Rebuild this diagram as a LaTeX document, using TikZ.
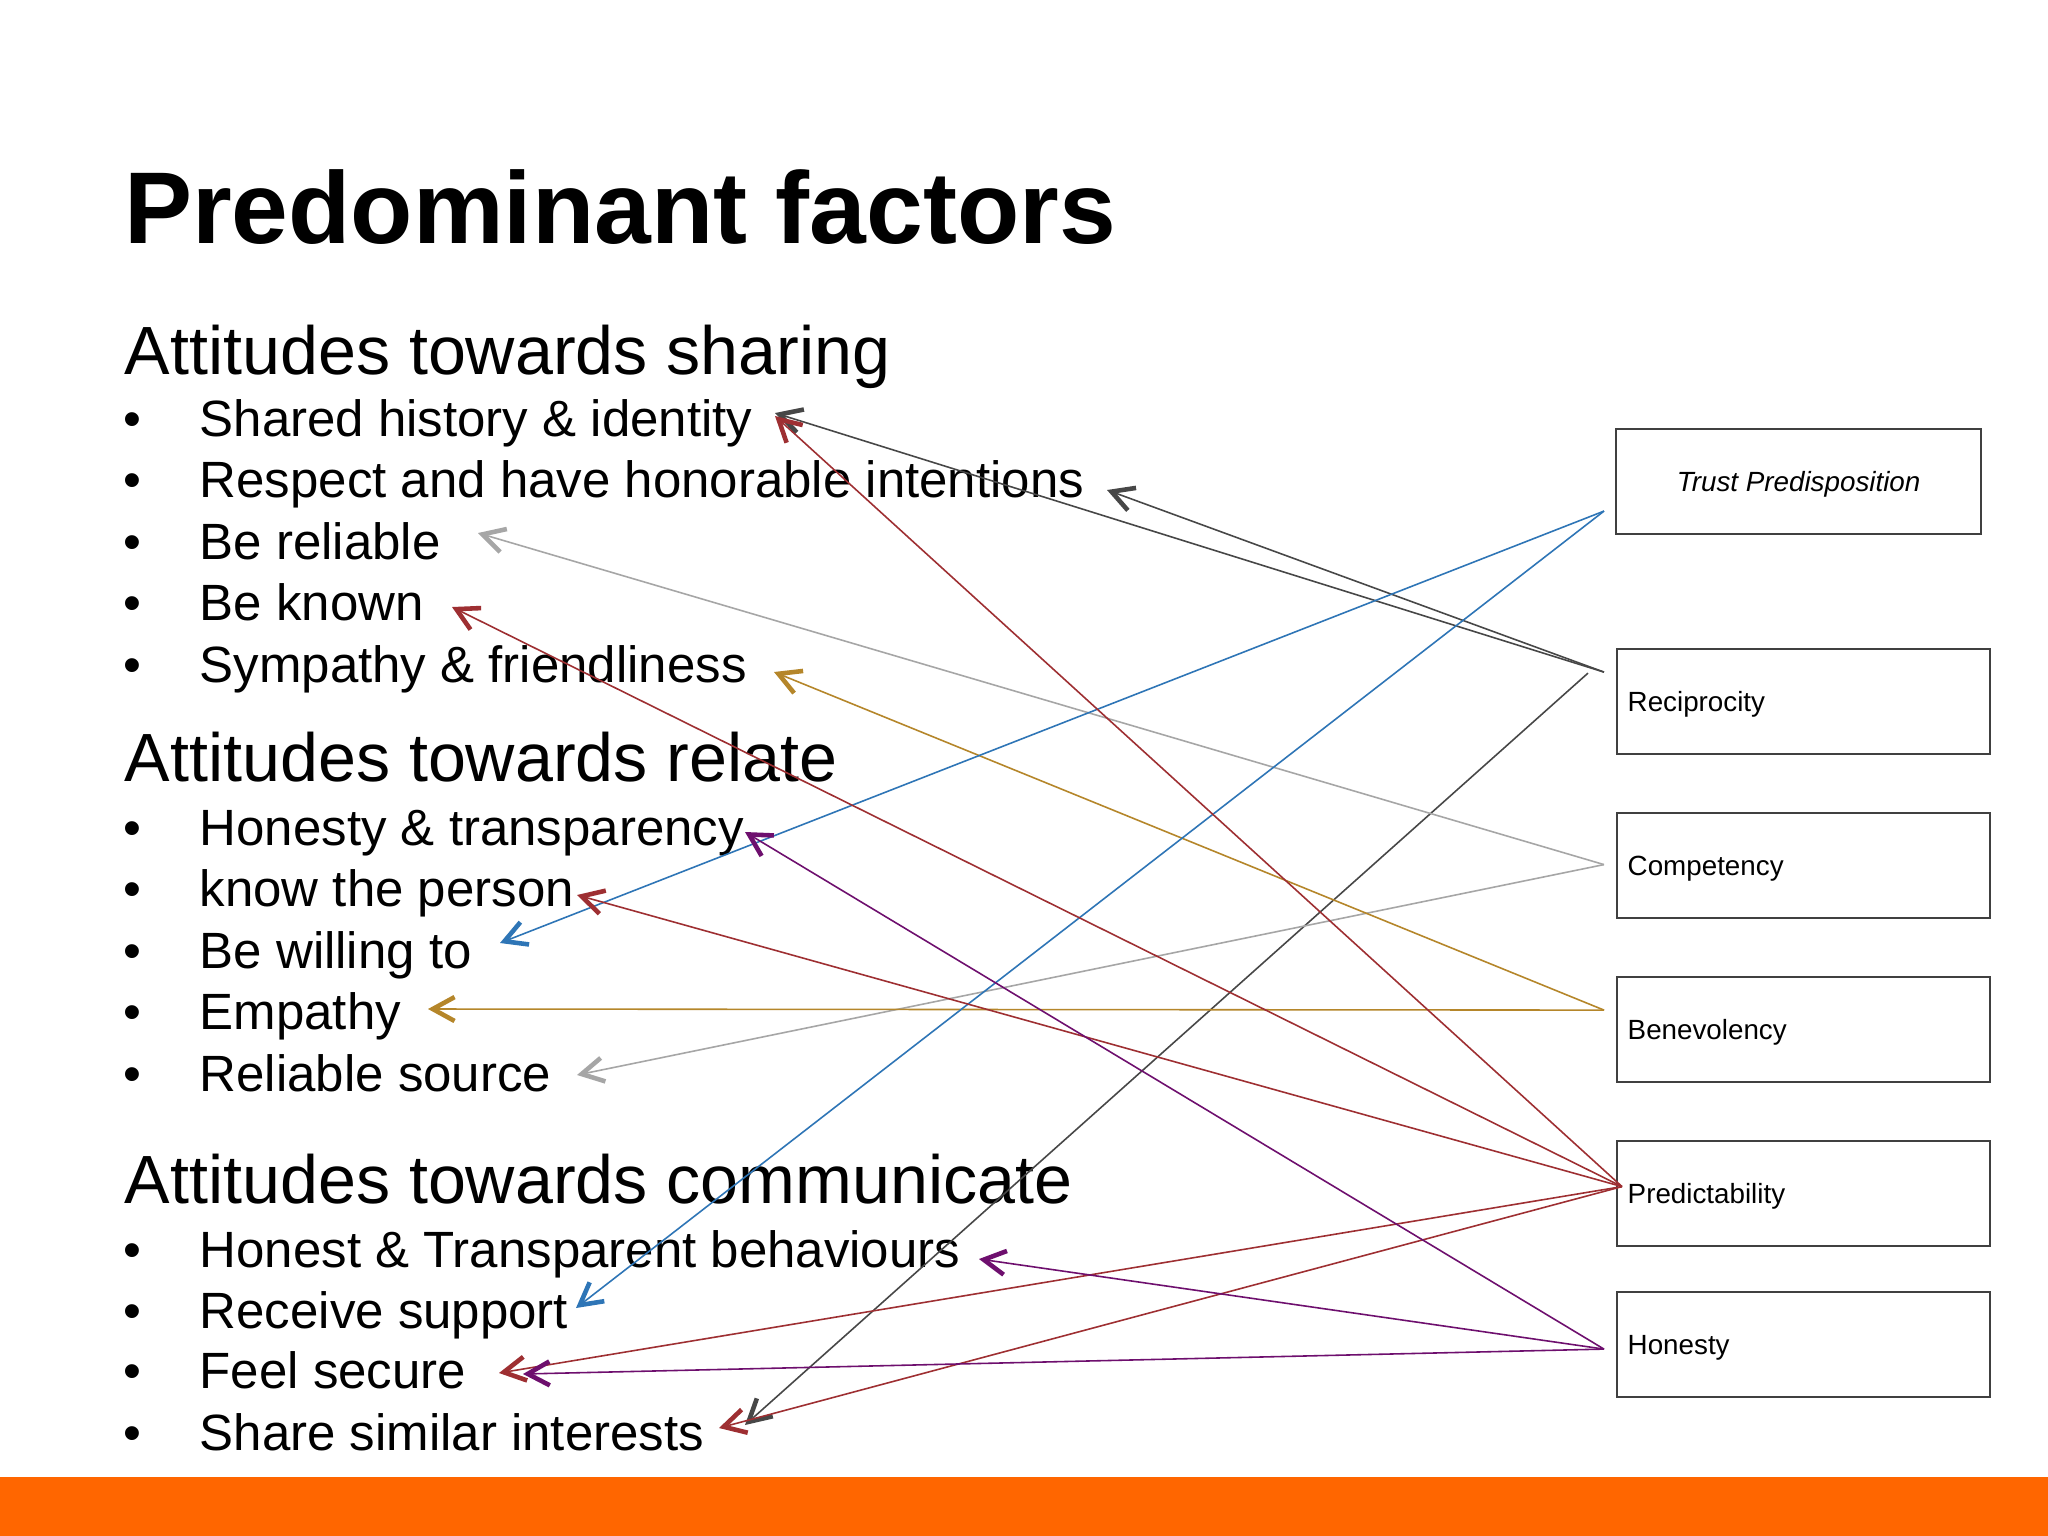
\documentclass[tikz,border=0pt]{standalone}
\usepackage{fontspec}
\setmainfont{Liberation Sans}
\usetikzlibrary{arrows.meta,calc}
\definecolor{dgray}{HTML}{474747}
\definecolor{lgray}{HTML}{A6A6A6}
\definecolor{dred}{HTML}{9E2F32}
\definecolor{gold}{HTML}{B5862A}
\definecolor{blu}{HTML}{2E75B6}
\definecolor{purp}{HTML}{6E0F6E}
\definecolor{orng}{HTML}{FF6600}
\definecolor{boxgray}{HTML}{404040}
\begin{document}
\begin{tikzpicture}[x=0.01cm,y=-0.01cm,
  titlestyle/.style={anchor=base west, inner sep=0, font=\fontsize{29pt}{34pt}\selectfont\bfseries},
  headstyle/.style={anchor=base west, inner sep=0, font=\fontsize{19.4pt}{23pt}\selectfont},
  itemstyle/.style={anchor=base west, inner sep=0, font=\fontsize{14.5pt}{17pt}\selectfont},
  bulstyle/.style={anchor=base, inner sep=0, font=\fontsize{14.5pt}{17pt}\selectfont},
  boxstyle/.style={draw=boxgray, line width=0.6pt, minimum width=3.73cm, minimum height=1.05cm, inner sep=0, anchor=north west},
  labstyle/.style={anchor=base west, inner sep=0, font=\fontsize{7.9pt}{9pt}\selectfont},
  conn/.style={line width=0.45pt, -{Straight Barb[length=6.2pt,width=6.8pt,line width=1.3pt]}},
]
\useasboundingbox[fill=white] (0,0) rectangle (2048,1536);
\fill[orng] (0,1477) rectangle (2048,1536);

% title and headings
\node[titlestyle] (title) at (123.5,243) {Predominant factors};
\node[headstyle] (h1) at (124,374) {Attitudes towards sharing};
\node[headstyle] (h2) at (124,781) {Attitudes towards relate};
\node[headstyle] (h3) at (124,1203) {Attitudes towards communicate};

% items
\foreach \y/\n/\t in {436/i1/Shared history \& identity,
                     497.5/i2/Respect and have honorable intentions,
                     559/i3/Be reliable,
                     620.5/i4/Be known,
                     682/i5/Sympathy \& friendliness,
                     845/i6/Honesty \& transparency,
                     906.5/i7/know the person,
                     968/i8/Be willing to,
                     1029.5/i9/Empathy,
                     1091/i10/Reliable source,
                     1267/i11/Honest \& Transparent behaviours,
                     1328/i12/Receive support,
                     1388.5/i13/Feel secure,
                     1450/i14/Share similar interests}{
  \node[bulstyle] (b\n) at (132,\y) {•};
  \node[itemstyle] (\n) at (199,\y) {\t};
}

% boxes
\node[boxstyle, minimum width=3.65cm] (trust) at (1615,428) {};
\node[labstyle, anchor=base, font=\fontsize{7.9pt}{9pt}\selectfont\itshape] (trustL) at ($(trust.center)+(0,10)$) {Trust Predisposition};
\node[boxstyle] (rec) at (1616,648) {};
\node[labstyle] (recL) at ($(rec.west)+(11,10)$) {Reciprocity};
\node[boxstyle] (comp) at (1616,811.5) {};
\node[labstyle] (compL) at ($(comp.west)+(11,10)$) {Competency};
\node[boxstyle] (ben) at (1616,976) {};
\node[labstyle] (benL) at ($(ben.west)+(11,10)$) {Benevolency};
\node[boxstyle] (pred) at (1616,1140) {};
\node[labstyle] (predL) at ($(pred.west)+(11,10)$) {Predictability};
\node[boxstyle] (hon) at (1616,1291) {};
\node[labstyle] (honL) at ($(hon.west)+(11,10)$) {Honesty};

% connector start points
\coordinate (trustS) at ($(trust.west)+(-11,29.5)$);
\coordinate (recS) at ($(rec.west)+(-12,-29.5)$);
\coordinate (recS2) at ($(rec.west)+(-28,-28.5)$);
\coordinate (compS) at ($(comp.west)+(-12,-0.5)$);
\coordinate (benS) at ($(ben.west)+(-12,-19.5)$);
\coordinate (predS) at ($(pred.west)+(6,-7)$);
\coordinate (honS) at ($(hon.west)+(-12,4.5)$);

% arrow tips
\coordinate (tShG) at (775,413);
\coordinate (tShR) at (775,416);
\coordinate (tResp) at (1107,490);
\coordinate (tRel) at (478,533);
\coordinate (tKnown) at (452,607);
\coordinate (tSym) at (774,672);
\coordinate (tHon) at (745,832);
\coordinate (tKnow) at (577,895);
\coordinate (tWill) at (500,943);
\coordinate (tEmp) at (428,1009);
\coordinate (tSrc) at (577,1075);
\coordinate (tBeh) at (979,1259);
\coordinate (tSup) at (576,1308);
\coordinate (tSecR) at (499,1373);
\coordinate (tSecP) at (523,1374);
\coordinate (tIntR) at (719,1428);
\coordinate (tIntG) at (745,1425);

% connectors
\draw[conn, dgray] (recS) -- (tShG);
\draw[conn, dgray] (recS) -- (tResp);
\draw[conn, dgray] (recS2) -- (tIntG);
\draw[conn, lgray] (compS) -- (tRel);
\draw[conn, lgray] (compS) -- (tSrc);
\draw[conn, gold] (benS) -- (tSym);
\draw[conn, gold] (benS) -- (tEmp);
\draw[conn, blu] (trustS) -- (tWill);
\draw[conn, blu] (trustS) -- (tSup);
\draw[conn, dred] (predS) -- (tShR);
\draw[conn, dred] (predS) -- (tKnown);
\draw[conn, dred] (predS) -- (tKnow);
\draw[conn, dred] (predS) -- (tSecR);
\draw[conn, dred] (predS) -- (tIntR);
\draw[conn, purp] (honS) -- (tHon);
\draw[conn, purp] (honS) -- (tBeh);
\draw[conn, purp] (honS) -- (tSecP);
\end{tikzpicture}
\end{document}
